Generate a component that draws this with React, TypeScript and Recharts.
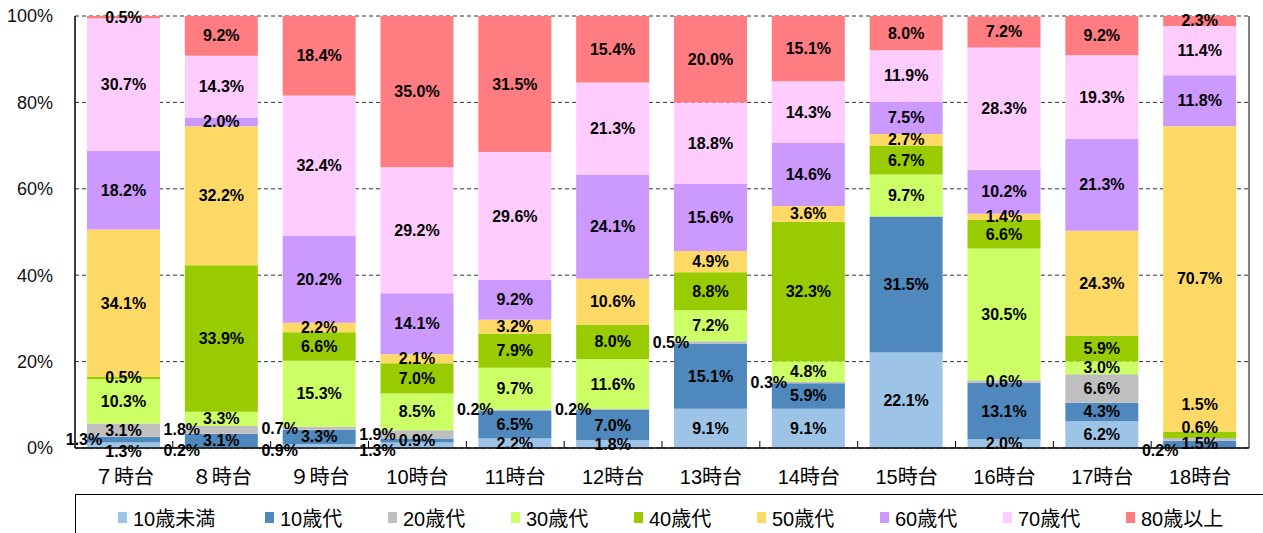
import React from 'react';
import { BarChart, Bar, XAxis, YAxis, CartesianGrid, Legend, LabelList } from 'recharts';

const categories = ['７時台', '８時台', '９時台', '10時台', '11時台', '12時台', '13時台', '14時台', '15時台', '16時台', '17時台', '18時台'];

const under10 = [1.3, 0.2, 0.9, 1.3, 2.2, 1.8, 9.1, 9.1, 22.1, 2.0, 6.2, 0.2];
const teens = [1.3, 3.1, 3.3, 0.9, 6.5, 7.0, 15.1, 5.9, 31.5, 13.1, 4.3, 1.5];
const twenties = [3.1, 1.8, 0.7, 1.9, 0.2, 0.2, 0.5, 0.3, 0, 0.6, 6.6, 0.6];
const thirties = [10.3, 3.3, 15.3, 8.5, 9.7, 11.6, 7.2, 4.8, 9.7, 30.5, 3.0, 0];
const forties = [0.5, 33.9, 6.6, 7.0, 7.9, 8.0, 8.8, 32.3, 6.7, 6.6, 5.9, 1.5];
const fifties = [34.1, 32.2, 2.2, 2.1, 3.2, 10.6, 4.9, 3.6, 2.7, 1.4, 24.3, 70.7];
const sixties = [18.2, 2.0, 20.2, 14.1, 9.2, 24.1, 15.6, 14.6, 7.5, 10.2, 21.3, 11.8];
const seventies = [30.7, 14.3, 32.4, 29.2, 29.6, 21.3, 18.8, 14.3, 11.9, 28.3, 19.3, 11.4];
const over80 = [0.5, 9.2, 18.4, 35.0, 31.5, 15.4, 20.0, 15.1, 8.0, 7.2, 9.2, 2.3];

const yTicks = [0, 20, 40, 60, 80, 100];

const series = [
  { key: 'under10', name: '10歳未満', values: under10, color: '#9DC3E6' },
  { key: 'teens', name: '10歳代', values: teens, color: '#4F88BC' },
  { key: 'twenties', name: '20歳代', values: twenties, color: '#BFBFBF' },
  { key: 'thirties', name: '30歳代', values: thirties, color: '#CCFF66' },
  { key: 'forties', name: '40歳代', values: forties, color: '#99CC00' },
  { key: 'fifties', name: '50歳代', values: fifties, color: '#FFD966' },
  { key: 'sixties', name: '60歳代', values: sixties, color: '#CC99FF' },
  { key: 'seventies', name: '70歳代', values: seventies, color: '#FFCCFF' },
  { key: 'over80', name: '80歳以上', values: over80, color: '#FF7C80' },
];

// label placement tweaks (as in the original chart)
type Placement = 'left' | 'leftBelow' | 'below' | 'up12' | 'up30';
const labelPlacements: Array<[string, string, Placement]> = [
  ['７時台', 'under10', 'below'],
  ['７時台', 'teens', 'left'],
  ['８時台', 'under10', 'leftBelow'],
  ['８時台', 'twenties', 'left'],
  ['９時台', 'under10', 'leftBelow'],
  ['９時台', 'twenties', 'left'],
  ['10時台', 'under10', 'leftBelow'],
  ['10時台', 'twenties', 'left'],
  ['11時台', 'twenties', 'left'],
  ['12時台', 'twenties', 'left'],
  ['13時台', 'twenties', 'left'],
  ['14時台', 'twenties', 'left'],
  ['18時台', 'under10', 'leftBelow'],
  ['18時台', 'twenties', 'up12'],
  ['18時台', 'forties', 'up30'],
];

const data = categories.map((cat, i) => {
  const row: Record<string, string | number> = { cat };
  series.forEach((s) => {
    row[s.key] = s.values[i];
  });
  return row;
});

const W = 1263;
const H = 533;
const MARGIN = { top: 16, right: 13, left: 0, bottom: 48 };
const Y_AXIS_W = 75;
const PLOT_W = W - MARGIN.right - Y_AXIS_W - 1;
const BAND = PLOT_W / categories.length;

const FONT = '"Liberation Sans", "Noto Sans CJK JP", sans-serif';

function makeLabel(seriesKey: string, values: number[]) {
  return (props: any) => {
    const { x, y, width, height } = props;
    const cx = Number(x) + Number(width) / 2;
    const idx = Math.max(0, Math.min(categories.length - 1, Math.floor((cx - Y_AXIS_W) / BAND)));
    const v = values[idx];
    if (!v) return null;
    const cat = categories[idx];
    const found = labelPlacements.find((p) => p[0] === cat && p[1] === seriesKey);
    const place = found ? found[2] : null;
    let tx = cx;
    let ty = Number(y) + Number(height) / 2;
    if (place === 'left') {
      tx = Number(x) - 3;
    } else if (place === 'leftBelow') {
      tx = Number(x) - 3;
      ty = Number(y) + Number(height) + 2;
    } else if (place === 'below') {
      ty = ty + 6;
    } else if (place === 'up12') {
      ty = ty - 12;
    } else if (place === 'up30') {
      ty = ty - 30;
    }
    return (
      <text
        x={tx}
        y={ty}
        textAnchor="middle"
        dominantBaseline="central"
        fontSize={16}
        fontWeight="bold"
        fill="#000"
        style={{ fontFamily: FONT }}
      >
        {v.toFixed(1) + '%'}
      </text>
    );
  };
}

const XTick = (props: any) => {
  const { x, y, payload, index } = props;
  const bx = Number(x) - BAND / 2;
  return (
    <g>
      <text
        x={x}
        y={Number(y) + 29}
        textAnchor="middle"
        dominantBaseline="central"
        fontSize={20}
        fill="#000"
        style={{ fontFamily: FONT }}
      >
        {payload.value}
      </text>
      {index > 0 && <line x1={bx} x2={bx} y1={y} y2={Number(y) - 7} stroke="#000" strokeWidth={1} />}
    </g>
  );
};

const renderLegend = () => (
  <div
    style={{
      boxSizing: 'border-box',
      width: '100%',
      height: '100%',
      borderTop: '1px solid #000',
      borderLeft: '1px solid #000',
      display: 'flex',
      alignItems: 'center',
      paddingLeft: 42,
      paddingTop: 6,
      fontFamily: FONT,
      fontSize: 20,
      color: '#000',
    }}
  >
    {series.map((s, i) => (
      <div
        key={s.key}
        style={{ display: 'flex', alignItems: 'center', width: i === 0 ? 147 : 123, flex: 'none', whiteSpace: 'nowrap' }}
      >
        <span style={{ display: 'inline-block', width: 9, height: 11, background: s.color, marginRight: 6 }} />
        <span>{s.name}</span>
      </div>
    ))}
  </div>
);

export default function App() {
  return (
    <div style={{ position: 'absolute', left: 0, top: 0, width: W, height: H, background: '#fff', fontFamily: FONT }}>
      <BarChart width={W} height={H} data={data} margin={MARGIN} barSize={73}>
        <CartesianGrid vertical={false} stroke="#333" strokeDasharray="4 3" />
        <XAxis
          dataKey="cat"
          height={37}
          interval={0}
          tickSize={0}
          tickMargin={0}
          tickLine={false}
          axisLine={{ stroke: '#000', strokeWidth: 1.5 }}
          tick={<XTick />}
        />
        <XAxis xAxisId="top" dataKey="cat" orientation="top" height={0} tick={false} tickLine={false} axisLine={{ stroke: '#000' }} />
        <YAxis
          width={Y_AXIS_W}
          domain={[0, 100]}
          ticks={yTicks}
          allowDataOverflow
          tickFormatter={(v: number) => v + '%'}
          tickLine={false}
          tickSize={6}
          tickMargin={16}
          axisLine={{ stroke: '#000', strokeWidth: 1.5 }}
          tick={{ fill: '#111', fontSize: 18, fontFamily: FONT }}
        />
        <YAxis yAxisId="right" orientation="right" width={1} domain={[0, 100]} tick={false} tickLine={false} axisLine={{ stroke: '#000' }} />
        {series.map((s) => (
          <Bar key={s.key} dataKey={s.key} name={s.name} stackId="a" fill={s.color} isAnimationActive={false}>
            <LabelList dataKey={s.key} content={makeLabel(s.key, s.values)} />
          </Bar>
        ))}
        <Legend
          layout="horizontal"
          verticalAlign="middle"
          align="center"
          content={renderLegend}
          wrapperStyle={{ left: 75, top: 494, width: W - 75, height: 39 }}
        />
      </BarChart>
    </div>
  );
}
